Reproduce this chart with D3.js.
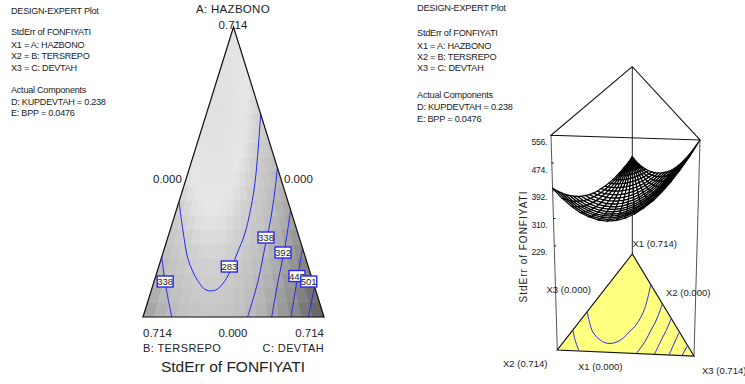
<!DOCTYPE html>
<html>
<head>
<meta charset="utf-8">
<script src="https://cdn.jsdelivr.net/npm/d3@7"></script>
<style>
  html, body { margin: 0; padding: 0; background: #fff; overflow: hidden; }
  svg { display: block; }
  text { font-family: "Liberation Sans", Arial, sans-serif; fill: #222; }
</style>
</head>
<body>
<svg id="chart" width="745" height="384"></svg>
<script>
// info block shown beside each plot
const infoLines = ["DESIGN-EXPERT Plot", "", "StdErr of FONFIYATI", "X1 = A: HAZBONO", "X2 = B: TERSREPO", "X3 = C: DEVTAH", "", "Actual Components", "D: KUPDEVTAH = 0.238", "E: BPP = 0.0476"];

// surface grid: A level per row, share of C in (B + C) per column
const hazbonoLevels = [0, 0.0357, 0.0714, 0.1071, 0.1428, 0.1785, 0.2142, 0.2499, 0.2856, 0.3213, 0.357, 0.3927, 0.4284, 0.4641, 0.4998, 0.5355, 0.5712, 0.6069, 0.6426, 0.6783, 0.714];
const devtahShares = [0, 0.0625, 0.125, 0.1875, 0.25, 0.3125, 0.375, 0.4375, 0.5, 0.5625, 0.625, 0.6875, 0.75, 0.8125, 0.875, 0.9375, 1];

const stdErrRows = [
  [400,371,348,330,318,310,308,311,319,332,350,372,400,432,469,510,556],
  [381,356,335,319,308,302,300,304,312,324,339,360,386,415,449,487,530],
  [364,341,323,309,300,294,293,297,304,316,330,349,372,400,431,466,504],
  [347,327,312,300,291,287,286,290,297,308,322,338,360,384,413,444,479],
  [332,315,301,291,284,280,280,283,290,300,313,329,348,370,395,424,456],
  [318,303,291,283,277,274,274,278,284,293,305,319,336,356,379,405,433],
  [305,292,283,275,271,269,269,272,278,286,297,310,325,343,364,387,412],
  [293,283,275,269,265,264,264,267,273,280,290,302,316,332,349,369,391],
  [283,274,268,263,260,259,260,263,268,275,283,294,306,321,337,353,372],
  [273,267,261,258,256,255,257,259,264,270,277,287,297,310,324,339,355],
  [265,260,256,253,252,252,253,256,260,265,272,280,289,300,312,325,339],
  [258,254,251,250,249,249,251,253,257,261,267,274,282,291,301,312,324],
  [253,250,248,247,247,247,249,251,254,258,263,268,275,282,291,300,310],
  [248,246,245,245,245,246,247,249,252,255,259,264,269,275,282,289,297],
  [245,244,243,243,244,245,246,248,250,253,256,260,264,269,274,280,286],
  [243,242,242,243,243,244,245,247,249,251,254,257,260,263,267,272,276],
  [242,242,242,243,243,244,245,247,248,250,252,254,256,259,262,265,268],
  [242,242,243,243,244,245,245,246,248,249,250,252,253,255,257,259,261],
  [244,244,244,245,245,246,246,247,248,249,250,251,252,253,254,255,256],
  [246,246,247,247,247,248,248,248,249,249,250,250,250,251,251,252,252],
  [250,250,250,250,250,250,250,250,250,250,250,250,250,250,250,250,250]
];

// contour lines as [A, C] pairs, B is what is left of 0.714
const contour283 = [[.4998,.2142],[.3176,.2802],[.2068,.299],[.1576,.2932],[.1083,.2863],[.0837,.2749],[.0665,.2535],[.0665,.2153],[.0894,.1711],[.1403,.1086],[.2068,.0556],[.2839,0]];
const contour338Right = [[.3676,.3464],[.3127,.3644],[.2314,.3853],[.1731,.3947],[.0911,.4093],[0,.413]];
const contour338Left = [[.1485,0],[.0869,.0433],[0,.1132]];
const contour392 = [[.2634,.4506],[.1731,.4736],[.0911,.4882],[0,.5077]];
const contour447 = [[.1691,.5449],[.1083,.5585],[0,.5838]];
const contour501 = [[.0746,.6394],[0,.652]];
const contourLines = [contour283, contour338Right, contour338Left, contour392, contour447, contour501];

// contour tags: text, A, C
const contourTags = [["338",.0874,.0439],["283",.1243,.2783],["338",.1957,.3874],["392",.1588,.4729],["447",.1009,.5569],["501",.0874,.61]];

const zTicks = [556, 474, 392, 310, 229];

const total = 0.714;
const svg = d3.select("#chart");

// ---- ternary contour plot ----
const ternX = d3.scaleLinear().domain([-total, total]).range([143, 324]);
const ternY = d3.scaleLinear().domain([0, total]).range([317, 27]);
const ternPoint = (a, c) => [ternX(c - (total - a - c)), ternY(a)];

const greyScale = d3.scaleLinear()
  .domain([242, 262, 283, 338, 392, 447, 501, 556])
  .range([224, 230, 208, 186, 160, 135, 112, 88]);
const grey = v => { const g = Math.round(greyScale(v)); return `rgb(${g},${g},${g})`; };

// cell list shared by the shaded field and the mesh, apex row first
let cells = [];
for (let r = hazbonoLevels.length - 2; r >= 0; r--) {
  for (let k = 0; k < devtahShares.length - 1; k++) {
    let corners = [[r, k], [r, k + 1], [r + 1, k + 1], [r + 1, k]].map(([i, j]) => {
      let a = hazbonoLevels[i];
      return { a: a, c: devtahShares[j] * (total - a), v: stdErrRows[i][j] };
    });
    cells.push(corners);
  }
}

const polyLine = pts => d3.line()(pts) + "Z";

svg.append("g").selectAll("path")
  .data(cells)
  .enter().append("path")
  .attr("d", d => polyLine(d.map(p => ternPoint(p.a, p.c))))
  .attr("fill", d => grey(d3.mean(d, p => p.v)))
  .attr("stroke", d => grey(d3.mean(d, p => p.v)))
  .attr("stroke-width", 0.5);

const contourPath = d3.line().curve(d3.curveCatmullRom);

svg.append("g").selectAll("path")
  .data(contourLines)
  .enter().append("path")
  .attr("d", d => contourPath(d.map(p => ternPoint(p[0], p[1]))))
  .attr("fill", "none")
  .attr("stroke", "#2828f0")
  .attr("stroke-width", 1);

svg.append("path")
  .attr("d", polyLine([ternPoint(total, 0), ternPoint(0, 0), ternPoint(0, total)]))
  .attr("fill", "none")
  .attr("stroke", "#111")
  .attr("stroke-width", 1.2);

let tags = svg.append("g").selectAll("g")
  .data(contourTags)
  .enter().append("g")
  .attr("transform", d => `translate(${ternPoint(d[1], d[2])})`);
tags.append("rect")
  .attr("x", -8).attr("y", -5.5).attr("width", 16).attr("height", 11)
  .attr("fill", "#fff").attr("stroke", "#2828f0").attr("stroke-width", 1.4);
tags.append("text")
  .attr("text-anchor", "middle").attr("y", 3.5)
  .attr("font-size", 9.5)
  .text(d => d[0]);

const label = (x, y, text, size, anchor, spacing) => svg.append("text")
  .attr("x", x).attr("y", y)
  .attr("font-size", size)
  .attr("text-anchor", anchor || "start")
  .attr("letter-spacing", spacing || 0)
  .text(text);

label(233, 13, "A: HAZBONO", 11.5, "middle", 0.3);
label(233, 29, "0.714", 11.5, "middle");
label(153, 183, "0.000", 11.5);
label(284, 183, "0.000", 11.5);
label(143, 337, "0.714", 11.5);
label(233, 337, "0.000", 11.5, "middle");
label(324, 337, "0.714", 11.5, "end");
label(143, 352, "B: TERSREPO", 11, "start", 0.4);
label(324, 352, "C: DEVTAH", 11, "end", 0.4);
label(233, 372, "StdErr of FONFIYATI", 15.5, "middle");

// ---- info blocks ----
const infoSteps = [10.5, 0, 32, 44.5, 56, 67.5, 0, 90, 101.5, 113];
infoLines.forEach((t, i) => { if (t) label(11, infoSteps[i] + 3, t, 9.1, "start", -0.25); });
const infoStepsRight = [8, 0, 33, 46, 57, 68, 0, 95, 107, 119];
infoLines.forEach((t, i) => { if (t) label(417, infoStepsRight[i] + 3, t, 9.2, "start", -0.25); });

// ---- 3D surface ----
const floorCorners = { a: [632.3, 254], b: [557.3, 350], c: [694, 356] };
const roofCorners = { a: [632.3, 66.7], b: [551, 135.3], c: [700, 140] };
const zRatio = d3.scaleLinear().domain([-79, 556]).range([0, 1]);

const blend = (corners, a, c) => {
  let wa = a / total, wc = c / total, wb = 1 - wa - wc;
  return [0, 1].map(i => wa * corners.a[i] + wb * corners.b[i] + wc * corners.c[i]);
};
const project = (a, c, v) => {
  let f = blend(floorCorners, a, c), t = blend(roofCorners, a, c), s = zRatio(v);
  return [f[0] + (t[0] - f[0]) * s, f[1] + (t[1] - f[1]) * s];
};

// back post goes behind the mesh
svg.append("path")
  .attr("d", d3.line()([roofCorners.a, floorCorners.a]))
  .attr("stroke", "#222").attr("stroke-width", 1).attr("fill", "none");

// side posts
[["b"], ["c"]].forEach(([k]) => {
  svg.append("path")
    .attr("d", d3.line()([roofCorners[k], floorCorners[k]]))
    .attr("stroke", "#555").attr("stroke-width", 1).attr("fill", "none");
});

svg.append("path")
  .attr("d", polyLine([roofCorners.a, roofCorners.b, roofCorners.c]))
  .attr("fill", "none").attr("stroke", "#111").attr("stroke-width", 1.1);

// floor
svg.append("path")
  .attr("d", polyLine([floorCorners.a, floorCorners.b, floorCorners.c]))
  .attr("fill", "#ffff80").attr("stroke", "#111").attr("stroke-width", 1.2);

svg.append("g").selectAll("path")
  .data(contourLines)
  .enter().append("path")
  .attr("d", d => contourPath(d.map(p => blend(floorCorners, p[0], p[1]))))
  .attr("fill", "none")
  .attr("stroke", "#2828f0")
  .attr("stroke-width", 1);

// mesh, painted from the back row to the front row
svg.append("g").selectAll("path")
  .data(cells)
  .enter().append("path")
  .attr("d", d => polyLine(d.map(p => project(p.a, p.c, p.v))))
  .attr("fill", "#fff")
  .attr("stroke", "#000")
  .attr("stroke-width", 1.15);

// z axis on the left post
const zAxisPoint = v => project(0, 0, v);
let zGroup = svg.append("g").selectAll("g")
  .data(zTicks)
  .enter().append("g");
zGroup.append("line")
  .attr("x1", d => zAxisPoint(d)[0]).attr("x2", d => zAxisPoint(d)[0] + 2)
  .attr("y1", d => zAxisPoint(d)[1]).attr("y2", d => zAxisPoint(d)[1])
  .attr("stroke", "#111");
zGroup.append("text")
  .attr("x", 547)
  .attr("y", d => zAxisPoint(d)[1] + 9.5)
  .attr("text-anchor", "end")
  .attr("font-size", 8.6)
  .attr("letter-spacing", -0.3)
  .text(d => d + ".");

svg.append("text")
  .attr("transform", "translate(527,246.5) rotate(-90)")
  .attr("text-anchor", "middle")
  .attr("font-size", 10)
  .attr("letter-spacing", 1)
  .text("StdErr of FONFIYATI");

label(632.5, 247, "X1 (0.714)", 9.5);
label(546.5, 293, "X3 (0.000)", 9.5);
label(666, 296, "X2 (0.000)", 9.5);
label(503, 367, "X2 (0.714)", 9.5);
label(578, 370, "X1 (0.000)", 9.5);
label(702, 374, "X3 (0.714)", 9.5);
</script>
</body>
</html>
